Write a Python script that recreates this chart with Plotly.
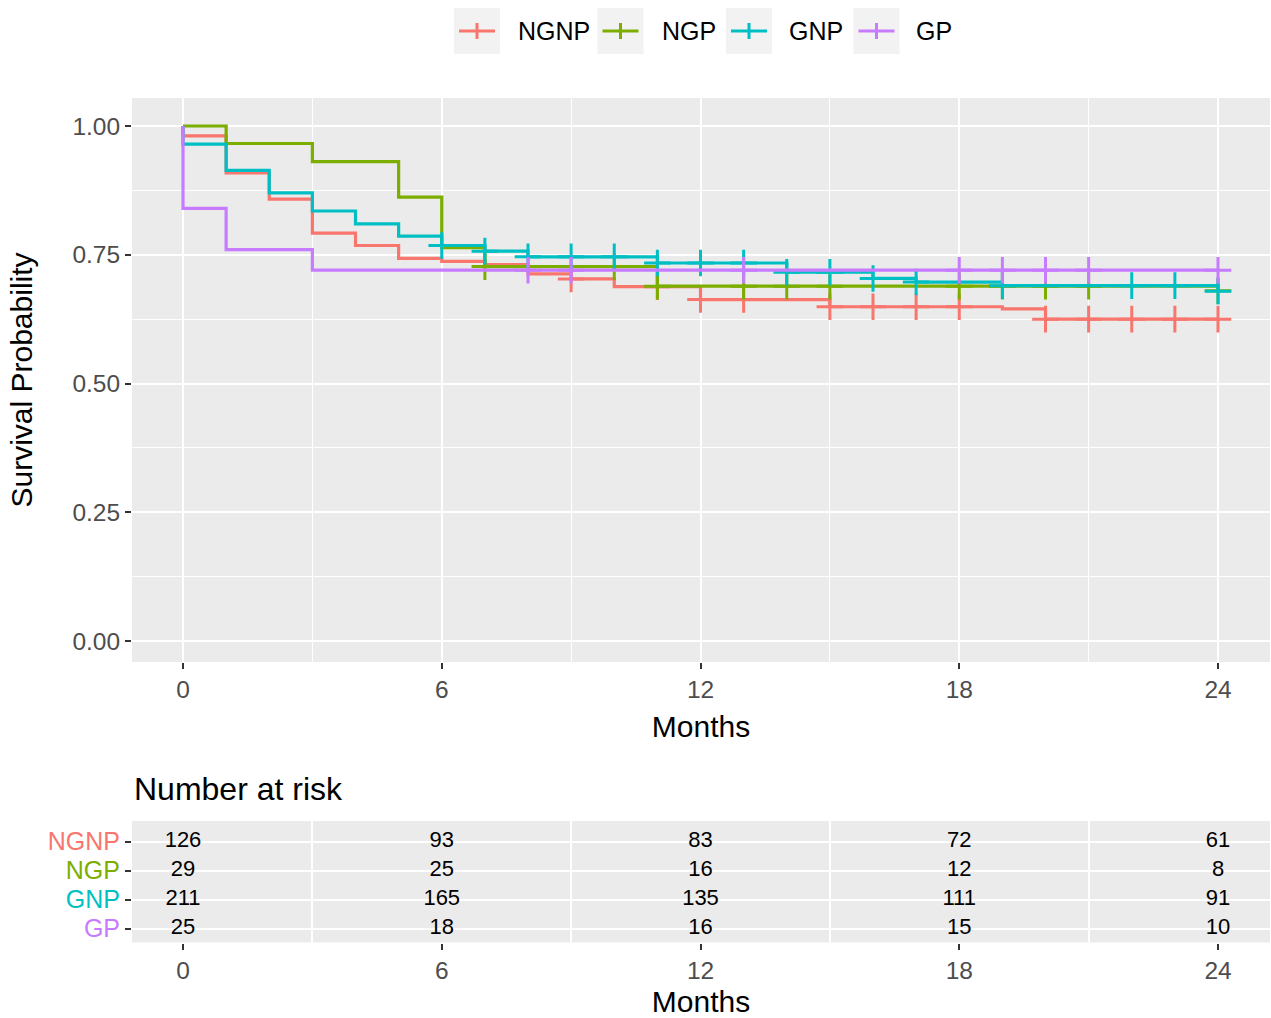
import plotly.graph_objects as go

# ---------------- data ----------------
groups = ["NGNP", "NGP", "GNP", "GP"]
colors = ["#F8766D", "#7CAE00", "#00BFC4", "#C77CFF"]

# Kaplan-Meier step points (time in months, survival probability)
ngnp_t = [0, 0, 1, 2, 3, 4, 5, 6, 7, 8, 9, 10, 12, 15, 19, 20, 24]
ngnp_s = [1.0, 0.981, 0.909, 0.858, 0.792, 0.768, 0.743, 0.737, 0.731, 0.713, 0.703, 0.688, 0.663, 0.649, 0.645, 0.625, 0.625]
ngnp_cens = [9, 11, 12, 13, 15, 16, 17, 18, 20, 21, 22, 23, 24]

ngp_t = [0, 1, 3, 5, 6, 7, 11, 24]
ngp_s = [1.0, 0.966, 0.931, 0.862, 0.764, 0.727, 0.689, 0.680]
ngp_cens = [7, 10, 11, 13, 14, 15, 18, 19, 20, 21, 24]

gnp_t = [0, 0, 1, 2, 3, 4, 5, 6, 7, 8, 11, 14, 16, 17, 19, 24]
gnp_s = [1.0, 0.965, 0.914, 0.870, 0.835, 0.810, 0.786, 0.768, 0.757, 0.746, 0.734, 0.716, 0.704, 0.697, 0.690, 0.679]
gnp_cens = [6, 7, 8, 9, 10, 11, 12, 13, 14, 15, 16, 17, 19, 22, 23, 24]

gp_t = [0, 0, 1, 3, 24]
gp_s = [1.0, 0.84, 0.76, 0.72, 0.72]
gp_cens = [8, 9, 13, 18, 19, 20, 21, 24]

# Number at risk table
risk_times = [0, 6, 12, 18, 24]
risk_ngnp = [126, 93, 83, 72, 61]
risk_ngp = [29, 25, 16, 12, 8]
risk_gnp = [211, 165, 135, 111, 91]
risk_gp = [25, 18, 16, 15, 10]

x_ticks = [0, 6, 12, 18, 24]
y_ticks = [0.0, 0.25, 0.5, 0.75, 1.0]
y_ticktext = ["0.00", "0.25", "0.50", "0.75", "1.00"]

curves = [(ngnp_t, ngnp_s, ngnp_cens), (ngp_t, ngp_s, ngp_cens),
          (gnp_t, gnp_s, gnp_cens), (gp_t, gp_s, gp_cens)]
risks = [risk_ngnp, risk_ngp, risk_gnp, risk_gp]

# ---------------- helpers ----------------
W, H = 1271, 1018
FONT = "Liberation Sans, Arial, sans-serif"


def px(x):
    return x / W


def py(y):
    return 1 - y / H


def surv_at(ts, ss, t):
    val = ss[0]
    for ti, si in zip(ts, ss):
        if ti <= t:
            val = si
    return val


fig = go.Figure()

for name, col, (ts, ss, cens) in zip(groups, colors, curves):
    fig.add_trace(go.Scatter(
        x=ts, y=ss, mode="lines", line=dict(color=col, width=3.2, shape="hv"),
        name=name, showlegend=False, xaxis="x", yaxis="y"))
    fig.add_trace(go.Scatter(
        x=cens, y=[surv_at(ts, ss, c) for c in cens], mode="markers",
        marker=dict(symbol="cross-thin", size=19, line=dict(color=col, width=3)),
        name=name, showlegend=False, xaxis="x", yaxis="y"))

# risk table text
row_pos = [4, 3, 2, 1]
for r, vals in zip(row_pos, risks):
    fig.add_trace(go.Scatter(
        x=risk_times, y=[r] * len(risk_times), mode="text",
        text=[str(v) for v in vals], textposition="middle center",
        textfont=dict(family=FONT, size=22, color="black"),
        showlegend=False, xaxis="x2", yaxis="y2", cliponaxis=False))

# ---------------- layout ----------------
x_dom = [px(132), px(1270)]
ppm = (1218 - 183) / 24.0
x_range = [(132 - 183) / ppm, 24 + (1270 - 1218) / ppm]
y_range = [-(662 - 641) / 515.0, 1 + (126 - 98) / 515.0]

tickfont = dict(family=FONT, size=24.5, color="#4D4D4D")
titlefont = dict(family=FONT, size=30, color="black")

common_ax = dict(ticks="outside", ticklen=6, tickwidth=2, tickcolor="#333333",
                 zeroline=False, showline=False, gridcolor="white", gridwidth=2.2)

fig.update_layout(
    width=W, height=H, margin=dict(l=0, r=0, t=0, b=0),
    paper_bgcolor="white", plot_bgcolor="#EBEBEB",
    font=dict(family=FONT),
    xaxis=dict(domain=x_dom, range=x_range, anchor="y", tickvals=x_ticks,
               showgrid=True, tickfont=tickfont,
               minor=dict(tickvals=[3, 9, 15, 21], showgrid=True, gridcolor="white", gridwidth=1.1, ticks=""),
               title=dict(text="Months", font=titlefont, standoff=13), **common_ax),
    yaxis=dict(domain=[py(662), py(98)], range=y_range, anchor="x", tickvals=y_ticks,
               ticktext=y_ticktext, showgrid=True, tickfont=tickfont,
               minor=dict(tickvals=[0.125, 0.375, 0.625, 0.875], showgrid=True, gridcolor="white", gridwidth=1.1, ticks=""),
               title=dict(text="Survival Probability", font=titlefont, standoff=30), **common_ax),
    xaxis2=dict(domain=x_dom, range=x_range, anchor="y2", tickvals=x_ticks,
                showgrid=False, tickfont=tickfont,
                minor=dict(tickvals=[3, 9, 15, 21], showgrid=True, gridcolor="white", gridwidth=2.2, ticks=""),
                title=dict(text="Months", font=titlefont, standoff=8), **common_ax),
    yaxis2=dict(domain=[py(942.5), py(821)], range=[1 - 14 / 29.0, 4 + 20.5 / 29.0], anchor="x2",
                tickvals=row_pos,
                ticktext=['<span style="color:%s">%s</span>' % (c, g) for g, c in zip(groups, colors)],
                tickfont=dict(family=FONT, size=25, color="#4D4D4D"),
                showgrid=True, **common_ax),
)

# table title
fig.add_annotation(x=px(132), y=py(789), xref="paper", yref="paper", text="Number at risk",
                   showarrow=False, xanchor="left", yanchor="middle",
                   font=dict(family=FONT, size=32, color="black"))

# manual legend (ggplot style grey keys)
key_cx = [477, 620.5, 749, 876.5]
text_x = [516, 660, 787, 914]
ly = 31
shapes = []
for name, col, kx, tx in zip(groups, colors, key_cx, text_x):
    shapes.append(dict(type="rect", xref="paper", yref="paper",
                       x0=px(kx - 23), x1=px(kx + 23), y0=py(ly + 23), y1=py(ly - 23),
                       fillcolor="#F2F2F2", line=dict(width=0), layer="below"))
    shapes.append(dict(type="line", xref="paper", yref="paper",
                       x0=px(kx - 18), x1=px(kx + 18), y0=py(ly), y1=py(ly),
                       line=dict(color=col, width=3)))
    shapes.append(dict(type="line", xref="paper", yref="paper",
                       x0=px(kx), x1=px(kx), y0=py(ly - 8), y1=py(ly + 8),
                       line=dict(color=col, width=3)))
    fig.add_annotation(x=px(tx), y=py(ly), xref="paper", yref="paper", text=name,
                       showarrow=False, xanchor="left", yanchor="middle",
                       font=dict(family=FONT, size=25, color="black"))
fig.update_layout(shapes=shapes)

fig.write_html("out.html", config={"displayModeBar": False},
               post_script="document.body.style.margin='0';document.body.style.overflow='hidden';")
